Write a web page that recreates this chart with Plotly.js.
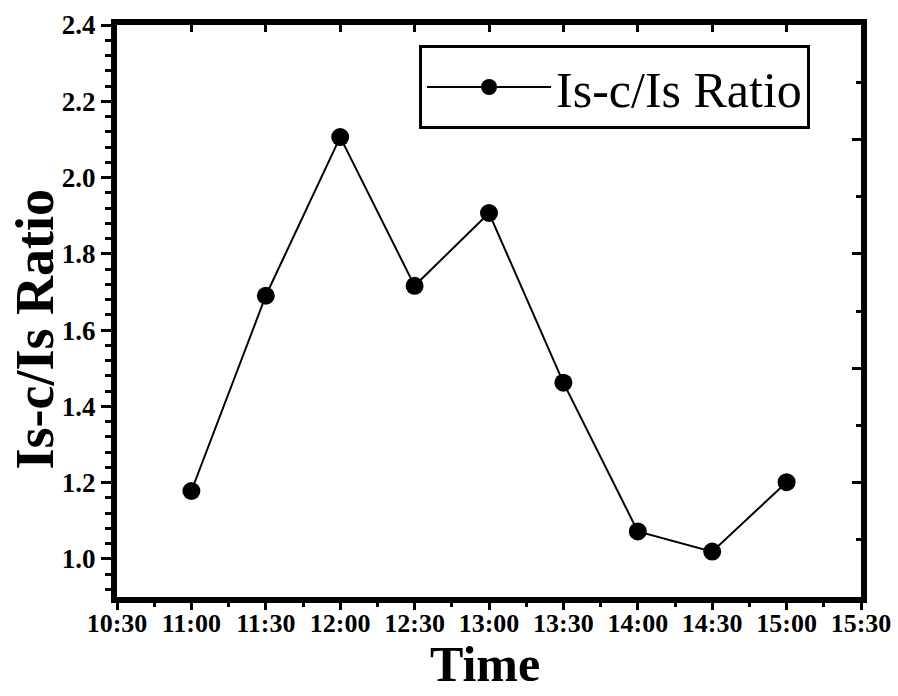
<!DOCTYPE html>
<html>
<head>
<meta charset="utf-8">
<script src="https://cdn.plot.ly/plotly-3.0.1.min.js"></script>
<style>html,body{margin:0;padding:0;background:#fff;}#chart{width:898px;height:696px;}</style>
</head>
<body>
<div id="chart"></div>
<script>
// Data
const times = ['11:00','11:30','12:00','12:30','13:00','13:30','14:00','14:30','15:00'];
const ratio = [1.178, 1.690, 2.106, 1.716, 1.907, 1.462, 1.072, 1.019, 1.201];
const seriesName = 'Is-c/Is Ratio';
const xTitle = 'Time';
const yTitle = 'Is-c/Is Ratio';
const xRangeTimes = ['10:30', '15:30'];
const yRange = [0.9, 2.4];

const day = '2000-01-01 ';
const toDate = t => day + t;
const serif = '"Times New Roman", "Liberation Serif", "DejaVu Serif", serif';
const HALF_HOUR = 30 * 60 * 1000;

const traces = [
  {
    x: times.map(toDate), y: ratio, name: seriesName,
    type: 'scatter', mode: 'lines+markers',
    line: {color: '#000', width: 2},
    marker: {color: '#000', size: 18, symbol: 'circle'},
    xaxis: 'x', yaxis: 'y'
  },
  {x: [], y: [], xaxis: 'x2', yaxis: 'y', showlegend: false, hoverinfo: 'skip', type: 'scatter'},
  {x: [], y: [], xaxis: 'x', yaxis: 'y2', showlegend: false, hoverinfo: 'skip', type: 'scatter'}
];

const xr = xRangeTimes.map(toDate);
const layout = {
  width: 898, height: 696,
  margin: {l: 117, r: 37, t: 25, b: 99},
  paper_bgcolor: '#fff', plot_bgcolor: '#fff',
  font: {family: serif, color: '#000'},
  showlegend: true,
  legend: {
    x: 0.406, y: 0.965, xanchor: 'left', yanchor: 'top',
    bgcolor: '#fff', bordercolor: '#000', borderwidth: 3,
    font: {family: serif, size: 50, color: '#000'},
    itemwidth: 124
  },
  xaxis: {
    type: 'date', range: xr, tickformat: '%H:%M',
    tick0: toDate('10:30'), dtick: HALF_HOUR,
    ticks: 'outside', ticklen: 7, tickwidth: 3, tickcolor: '#000',
    minor: {dtick: HALF_HOUR / 2, ticks: 'outside', ticklen: 4, tickwidth: 3, tickcolor: '#000'},
    showline: true, linewidth: 6, linecolor: '#000',
    showgrid: false, zeroline: false, fixedrange: true,
    tickfont: {family: serif, size: 26, color: '#000', weight: 'bold'},
    ticklabelstandoff: -9,
    automargin: false
  },
  xaxis2: {
    type: 'date', range: xr, overlaying: 'x', side: 'top', anchor: 'y',
    tick0: toDate('10:30'), dtick: HALF_HOUR,
    ticks: 'inside', ticklen: 7, tickwidth: 3, tickcolor: '#000',
    showticklabels: false,
    showline: true, linewidth: 6, linecolor: '#000',
    showgrid: false, zeroline: false, fixedrange: true
  },
  yaxis: {
    range: yRange, tick0: 1.0, dtick: 0.2, tickformat: '.1f',
    ticks: 'outside', ticklen: 10, tickwidth: 3, tickcolor: '#000',
    minor: {tick0: 0, dtick: 0.04, ticks: 'outside', ticklen: 6, tickwidth: 3, tickcolor: '#000'},
    showline: true, linewidth: 6, linecolor: '#000',
    showgrid: false, zeroline: false, fixedrange: true,
    tickfont: {family: serif, size: 27, color: '#000', weight: 'bold'},
    automargin: false
  },
  yaxis2: {
    range: yRange, overlaying: 'y', side: 'right', anchor: 'x',
    tick0: 0.9, dtick: 0.3,
    ticks: 'inside', ticklen: 9, tickwidth: 3, tickcolor: '#000',
    minor: {tick0: 0.9, dtick: 0.15, ticks: 'inside', ticklen: 5, tickwidth: 3, tickcolor: '#000'},
    showticklabels: false,
    showline: true, linewidth: 6, linecolor: '#000',
    showgrid: false, zeroline: false, fixedrange: true
  },
  annotations: [
    {
      text: xTitle, xref: 'paper', yref: 'paper',
      x: 0.494, y: -0.117, xanchor: 'center', yanchor: 'middle',
      showarrow: false,
      font: {family: serif, size: 50, color: '#000', weight: 'bold'}
    },
    {
      text: yTitle, xref: 'paper', yref: 'paper', textangle: -90,
      x: -0.1105, y: 0.469, xanchor: 'center', yanchor: 'middle',
      showarrow: false,
      font: {family: serif, size: 54, color: '#000', weight: 'bold'}
    }
  ]
};

Plotly.newPlot('chart', traces, layout, {displayModeBar: false, staticPlot: true});
</script>
</body>
</html>
